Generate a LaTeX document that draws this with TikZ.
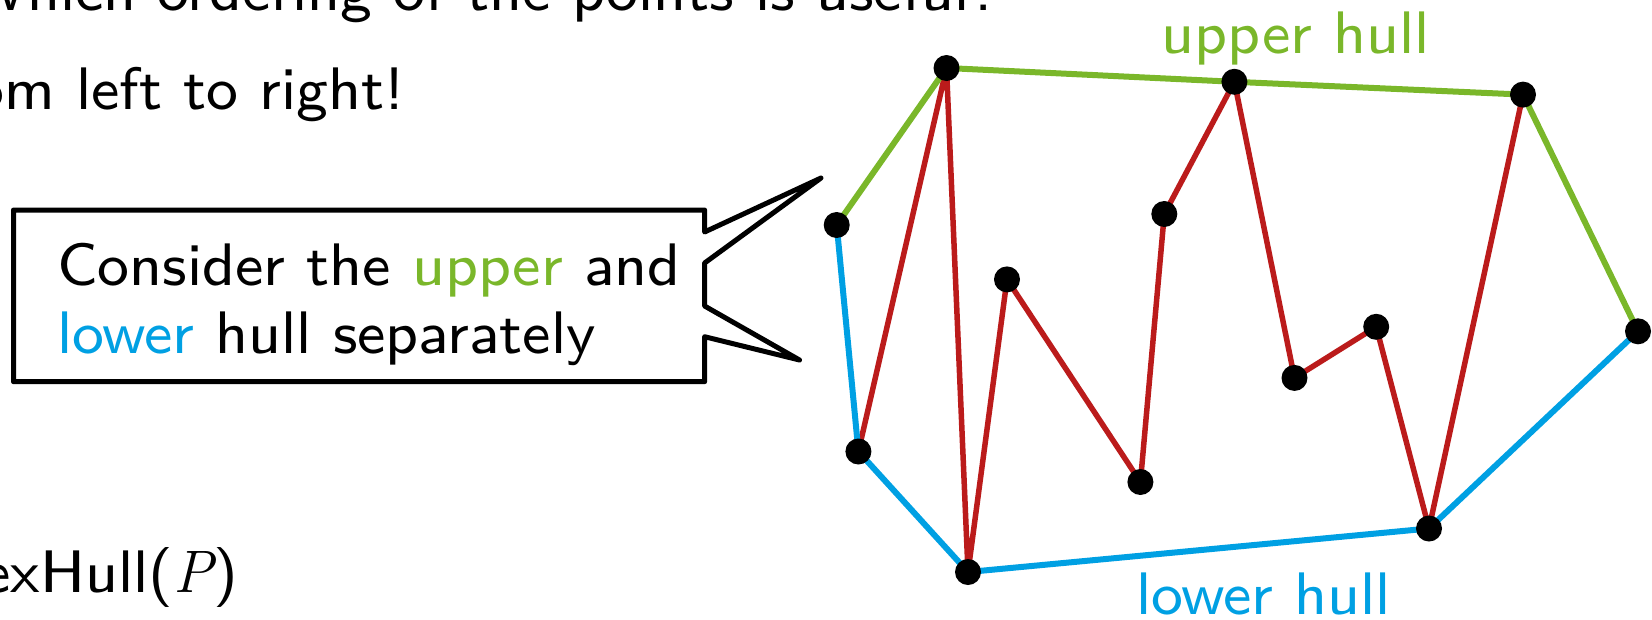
\documentclass[tikz,border=0pt]{standalone}
\usepackage{fontspec}
\setsansfont{lmsans8-regular}[Extension=.otf]
\usetikzlibrary{backgrounds}
\definecolor{hullgreen}{RGB}{122,183,42}
\definecolor{hullblue}{RGB}{0,160,227}
\definecolor{chainred}{RGB}{187,27,27}
\tikzset{
  pt/.style={circle,fill=black,inner sep=0pt,minimum size=26pt},
  upperedge/.style={hullgreen,line width=6pt},
  loweredge/.style={hullblue,line width=6pt},
  chainedge/.style={chainred,line width=5.5pt},
  bigtext/.style={font=\sffamily\fontsize{60}{64}\selectfont,inner sep=0pt},
}
\begin{document}
\begin{tikzpicture}[x=1pt,y=-1pt]
\useasboundingbox (0,0) rectangle (1652,619);
\clip (0,0) rectangle (1652,619);
% partial slide text
\node[bigtext,anchor=base east] (t1) at (1000,10) {Which ordering of the points is useful?};
\node[bigtext,anchor=base east] (t2) at (405,109) {From left to right!};
\node[bigtext,anchor=base east] (t3) at (238,592) {ConvexHull({\rmfamily\itshape P})};
% callout
\draw[line width=5pt,line join=round,fill=white]
  (13.5,210) -- (704.6,210) -- (704.6,232) -- (821,178) -- (704.6,263)
  -- (704.6,306) -- (799.5,360) -- (704.6,336.7) -- (704.6,381.7)
  -- (13.5,381.7) -- cycle;
\node[bigtext,anchor=base west] (c1) at (57,285) {Consider the \textcolor{hullgreen}{upper} and};
\node[bigtext,anchor=base west] (c2) at (57,353) {\textcolor{hullblue}{lower} hull separately};
% points
\node[pt] (A) at (836.7,225) {};
\node[pt] (B) at (946.5,68) {};
\node[pt] (C) at (858.4,451.5) {};
\node[pt] (D) at (968,572) {};
\node[pt] (E) at (1007,279.4) {};
\node[pt] (F) at (1140.4,482) {};
\node[pt] (G) at (1164.3,214) {};
\node[pt] (H) at (1234.4,81.8) {};
\node[pt] (I) at (1294.5,377.9) {};
\node[pt] (J) at (1376.2,326.8) {};
\node[pt] (K) at (1429,528.5) {};
\node[pt] (L) at (1523,94.6) {};
\node[pt] (M) at (1638,331.3) {};
\begin{scope}[on background layer]
\draw[chainedge,line join=round] (C.center) -- (B.center) -- (D.center) -- (E.center) -- (F.center) -- (G.center) -- (H.center) -- (I.center) -- (J.center) -- (K.center) -- (L.center);
\draw[upperedge] (A.center) -- (B.center);
\draw[upperedge] (B.center) -- (H.center);
\draw[upperedge] (H.center) -- (L.center);
\draw[upperedge] (L.center) -- (M.center);
\draw[loweredge] (A.center) -- (C.center);
\draw[loweredge] (C.center) -- (D.center);
\draw[loweredge] (D.center) -- (K.center);
\draw[loweredge] (K.center) -- (M.center);
\end{scope}
\node[bigtext,anchor=base west,text=hullgreen] (uh) at (1161.7,53.3) {upper hull};
\node[bigtext,anchor=base west,text=hullblue] (lh) at (1136,614) {lower hull};
\end{tikzpicture}
\end{document}
